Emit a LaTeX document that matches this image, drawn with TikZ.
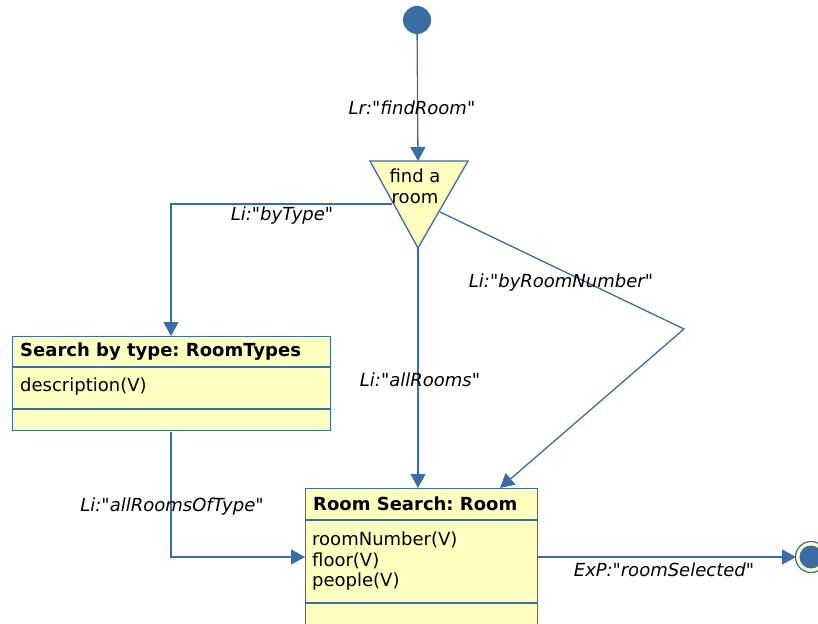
\documentclass[tikz,border=0pt]{standalone}
\usepackage{fontspec}
\setmainfont{DejaVu Sans}[Ligatures=TeXOff]
\usetikzlibrary{arrows.meta}
\frenchspacing
\definecolor{umlblue}{RGB}{58,108,166}
\definecolor{umlfill}{RGB}{255,255,192}
\tikzset{
  flow/.style={draw=umlblue, line width=1.3pt, -{Triangle[length=14pt,width=15pt]}},
  plain/.style={draw=umlblue, line width=1.3pt},
  classbox/.style={draw=umlblue, fill=umlfill, line width=1.3pt, anchor=north west, inner sep=0pt},
  lbl/.style={font=\fontsize{18}{21}\selectfont\itshape, inner sep=1pt},
  txt/.style={font=\fontsize{18}{20.5}\selectfont, anchor=west, inner sep=0pt, align=left},
  head/.style={font=\fontsize{18}{21}\selectfont\bfseries, anchor=west, inner sep=0pt}
}
\begin{document}
\begin{tikzpicture}[x=1pt,y=-1pt]
\useasboundingbox (0,0) rectangle (818,623);
\clip (0,0) rectangle (818,623);

% initial state
\node[circle, fill=umlblue, minimum size=28pt, inner sep=0pt] (init) at (417,20) {};

% decision triangle "find a room"
\coordinate (tl) at (370,161);
\coordinate (tr) at (468,161);
\coordinate (tb) at (418,248);
\path[fill=umlfill, draw=umlblue, line width=1.3pt] (tl) -- (tr) -- (tb) -- cycle;
\coordinate (ttop) at (418,161);
\coordinate (tleft) at (392,204);
\coordinate (tright) at (440,212);
\node[font=\fontsize{18}{21}\selectfont, align=center] (find) at (415,186) {find a\\room};

% class box: Search by type
\node[classbox, minimum width=318pt, minimum height=94pt] (types) at (12,336) {};
\draw[plain] (12,367) -- (330,367);
\draw[plain] (12,409) -- (330,409);
\node[head] (typesh) at (20,352) {Search by type: RoomTypes};
\node[txt] (typesa) at (20,387) {description(V)};

% class box: Room Search
\node[classbox, minimum width=232pt, minimum height=150pt] (rooms) at (305,488) {};
\draw[plain] (305,520) -- (537,520);
\draw[plain] (305,603) -- (537,603);
\node[head] (roomsh) at (313,504) {Room Search: Room};
\node[txt, anchor=north west] (roomsa) at (312,532) {roomNumber(V)\\floor(V)\\people(V)};

% final state
\node[circle, fill=umlfill, draw=umlblue, line width=1.2pt, minimum size=31pt, inner sep=0pt] (final) at (811,557) {};
\node[circle, fill=umlblue, minimum size=23pt, inner sep=0pt] (finalin) at (811,557) {};

% connectors
\coordinate (bend) at (684,329);
\coordinate (typein) at (171,336);
\coordinate (typecorner) at (171,204);
\coordinate (typeout) at (171,432);
\coordinate (lowcorner) at (171,557);
\coordinate (roomleft) at (305,557);
\coordinate (roomtop) at (418,488);
\coordinate (roomtopr) at (500,488);
\coordinate (roomright) at (537,557);
\coordinate (finalleft) at (796,557);

\draw[flow] (init) -- (ttop);
\draw[flow] (tleft) -- (typecorner) -- (typein);
\draw[flow] (tb) -- (roomtop);
\draw[flow] (tright) -- (bend) -- (roomtopr);
\draw[flow] (typeout) -- (lowcorner) -- (roomleft);
\draw[flow] (roomright) -- (finalleft);

% labels
\node[lbl] at (412,108) {Lr:"findRoom"};
\node[lbl] at (282,216) {Li:"byType"};
\node[lbl] at (561,283) {Li:"byRoomNumber"};
\node[lbl] at (420,380) {Li:"allRooms"};
\node[lbl] at (172,507) {Li:"allRoomsOfType"};
\node[lbl] at (664,570) {ExP:"roomSelected"};
\end{tikzpicture}
\end{document}
